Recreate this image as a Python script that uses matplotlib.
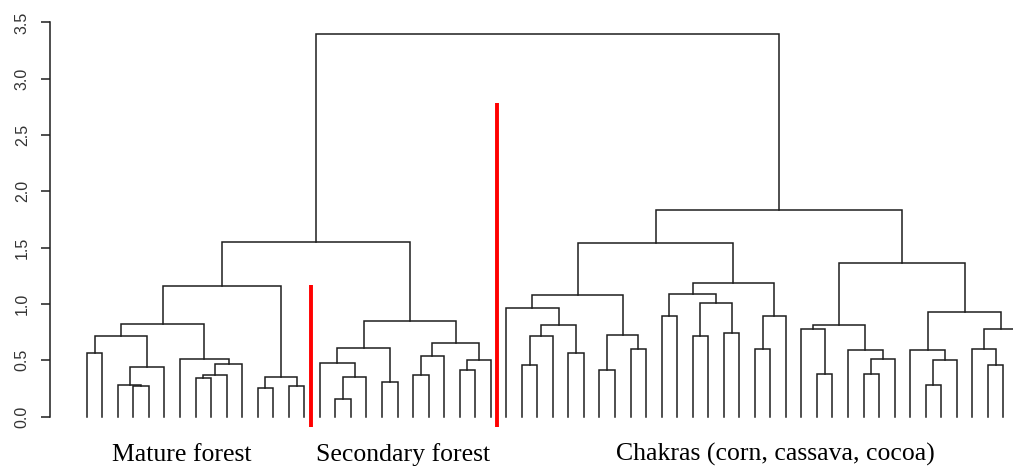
import matplotlib
matplotlib.use('Agg')
import matplotlib.pyplot as plt

# Leaves are numbered 0..60 from left to right (the last one is cut off by the
# right edge of the picture). Every merge becomes a new cluster, numbered from 61 up.
n_leaves = 61

# (left child, right child, height)
merges = [
    # Mature forest
    (3, 4, 0.275), (2, 61, 0.28), (62, 5, 0.44), (0, 1, 0.568), (64, 63, 0.716),
    (7, 8, 0.34), (66, 9, 0.37), (67, 10, 0.47), (6, 68, 0.514), (65, 69, 0.82),
    (11, 12, 0.256), (13, 14, 0.267), (71, 72, 0.35), (70, 73, 1.16),
    # Secondary forest
    (16, 17, 0.158), (75, 18, 0.35), (15, 76, 0.475), (19, 20, 0.306), (77, 78, 0.61),
    (21, 22, 0.37), (80, 23, 0.535), (24, 25, 0.416), (82, 26, 0.505), (81, 83, 0.653),
    (79, 84, 0.847),
    (74, 85, 1.55),
    # Chakras, left branch
    (28, 29, 0.46), (87, 30, 0.716), (31, 32, 0.564), (88, 89, 0.817), (27, 90, 0.96),
    (33, 34, 0.416), (35, 36, 0.60), (92, 93, 0.72), (91, 94, 1.078),
    (37, 38, 0.89), (39, 40, 0.716), (41, 42, 0.746), (97, 98, 1.01), (96, 99, 1.085),
    (43, 44, 0.60), (101, 45, 0.89), (100, 102, 1.19), (95, 103, 1.545),
    # Chakras, right branch
    (47, 48, 0.38), (46, 105, 0.775), (50, 51, 0.38), (107, 52, 0.514), (49, 108, 0.588),
    (106, 109, 0.81), (54, 55, 0.276), (111, 56, 0.5), (53, 112, 0.588),
    (58, 59, 0.455), (57, 114, 0.597), (115, 60, 0.775), (113, 116, 0.924),
    (110, 117, 1.366),
    (104, 118, 1.836),
    # root
    (86, 119, 3.396),
]

group_names = ['Mature forest', 'Secondary forest', 'Chakras (corn, cassava, cocoa)']
cut_x = [14.4, 26.4]
cut_top = [1.17, 2.78]
y_ticks = [0.0, 0.5, 1.0, 1.5, 2.0, 2.5, 3.0, 3.5]

fig = plt.figure(figsize=(10.13, 4.68), dpi=100)
ax = fig.add_axes([0, 0, 1, 1])
ax.set_xlim(-5.588, 59.62)
ax.set_ylim(-0.457, 3.699)

# draw the tree, leaves hang down to 0
pos = {i: (float(i), 0.0) for i in range(n_leaves)}
for k, (a, b, h) in enumerate(merges):
    xa, ya = pos[a]
    xb, yb = pos[b]
    ax.plot([xa, xa, xb, xb], [ya, h, h, yb], color='#1e1e1e', lw=1.1,
            solid_joinstyle='miter')
    pos[n_leaves + k] = ((xa + xb) / 2, h)

# red cut lines between the groups
for x, top in zip(cut_x, cut_top):
    ax.plot([x, x], [-0.093, top], color='#ff0000', lw=2.8, solid_capstyle='butt')

# group names under the leaves
for name, x in zip(group_names, [6.1, 20.35, 44.3]):
    ax.text(x, -0.395, name, ha='center', va='baseline', fontsize=18.5,
            family='Liberation Serif', color='black')

# R style y axis
for s in ['top', 'right', 'bottom']:
    ax.spines[s].set_visible(False)
ax.spines['left'].set_position(('data', -2.37))
ax.spines['left'].set_bounds(0, 3.5)
ax.spines['left'].set_linewidth(1.1)
ax.spines['left'].set_color('#1e1e1e')
ax.set_xticks([])
ax.set_yticks(y_ticks)
ax.set_yticklabels(['%.1f' % t for t in y_ticks], rotation=90, va='center',
                   family='Liberation Sans', fontsize=11.5, color='#333333')
ax.tick_params(axis='y', direction='out', length=6.5, width=1.1, pad=8,
               color='#1e1e1e')

fig.savefig('out.png', dpi=100)
